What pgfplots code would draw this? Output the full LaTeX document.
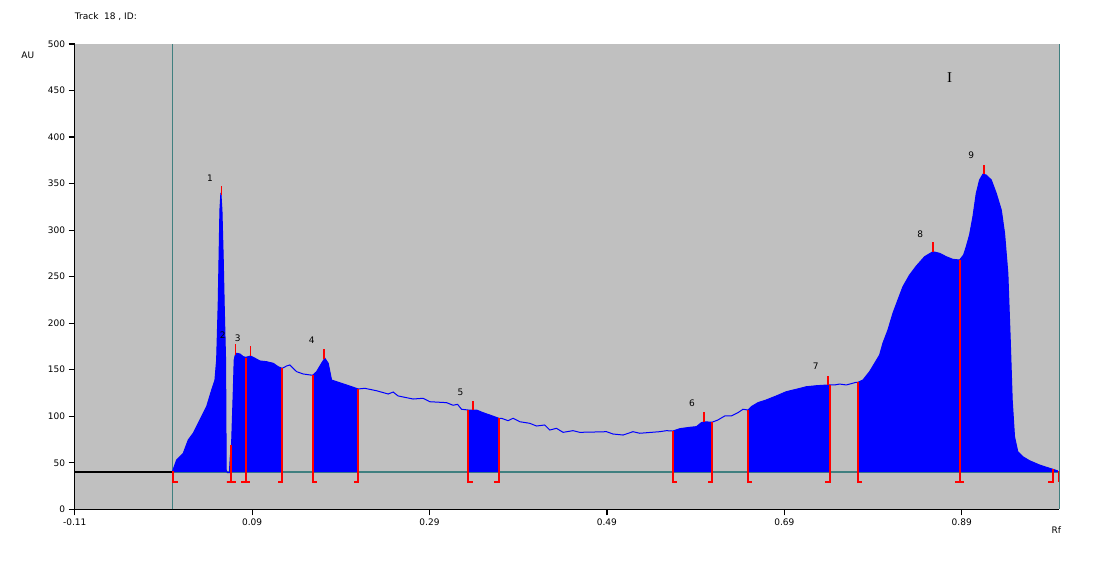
\documentclass[border=0pt]{standalone}
\usepackage{pgfplots}
\pgfplotsset{compat=1.18}
\usepackage{pgfplotstable}
\usepackage{fontspec}
\setmainfont{DejaVu Sans}
\newfontfamily\ibeam{Liberation Serif}
\definecolor{bgsilver}{HTML}{C0C0C0}
\definecolor{tealline}{HTML}{408080}
\definecolor{peakblue}{HTML}{0000FF}
\definecolor{markred}{HTML}{FF0000}

% densitogram, Rf vs AU
\pgfplotstableread{
rf au
0.0000 40.0
0.0049 53.0
0.0124 60.2
0.0180 74.5
0.0236 81.7
0.0312 96.0
0.0387 110.3
0.0444 128.2
0.0481 138.9
0.0500 160.4
0.0518 221.7
0.0537 321.6
0.0548 339.9
0.0560 321.6
0.0574 271.4
0.0586 217.7
0.0601 160.4
0.0608 42.2
0.0622 39.5
0.0644 39.5
0.0653 55.1
0.0669 70.9
0.0687 124.7
0.0698 160.4
0.0710 165.8
0.0725 167.6
0.0763 166.9
0.0800 164.0
0.0830 163.3
0.0856 164.0
0.0883 164.7
0.0932 162.3
0.0988 159.4
0.1063 158.6
0.1138 156.9
0.1194 153.2
0.1239 151.5
0.1289 154.0
0.1326 155.1
0.1363 151.5
0.1402 147.9
0.1476 145.4
0.1582 144.0
0.1627 147.9
0.1683 156.9
0.1720 162.3
0.1758 156.9
0.1796 138.9
0.1852 137.1
0.1965 133.6
0.2096 129.3
0.2171 130.0
0.2303 127.4
0.2434 123.9
0.2490 126.0
0.2546 121.8
0.2715 118.5
0.2828 119.3
0.2903 115.6
0.3092 114.6
0.3166 111.8
0.3216 112.8
0.3261 107.5
0.3335 106.7
0.3430 106.7
0.3504 103.8
0.3580 101.3
0.3681 97.8
0.3711 97.8
0.3786 95.2
0.3842 97.8
0.3918 94.1
0.4030 92.4
0.4106 89.5
0.4199 90.6
0.4256 85.2
0.4331 87.0
0.4406 82.7
0.4518 84.5
0.4594 82.7
0.4782 83.1
0.4895 83.4
0.4969 80.9
0.5082 79.8
0.5194 83.4
0.5270 81.7
0.5495 83.4
0.5571 84.5
0.5645 84.1
0.5721 86.6
0.5833 88.1
0.5909 88.8
0.5965 93.1
0.6002 94.1
0.6084 93.5
0.6152 96.0
0.6228 100.3
0.6303 100.3
0.6377 103.8
0.6434 107.5
0.6490 106.7
0.6528 110.3
0.6603 114.6
0.6697 117.5
0.6810 121.8
0.6923 126.4
0.7036 129.0
0.7148 131.7
0.7261 132.8
0.7392 133.6
0.7413 133.6
0.7467 133.6
0.7523 134.6
0.7599 133.6
0.7711 136.5
0.7730 136.5
0.7786 138.9
0.7861 147.9
0.7918 156.9
0.7974 165.8
0.8011 178.4
0.8068 192.7
0.8124 210.6
0.8180 224.9
0.8237 239.2
0.8312 251.8
0.8388 261.4
0.8481 271.4
0.8575 276.8
0.8650 275.1
0.8726 271.4
0.8800 268.6
0.8876 267.9
0.8921 273.3
0.8951 282.2
0.8988 294.8
0.9026 314.4
0.9064 339.6
0.9101 353.9
0.9138 360.0
0.9176 359.2
0.9233 353.9
0.9289 339.6
0.9346 321.6
0.9383 296.6
0.9420 253.6
0.9447 181.9
0.9469 117.5
0.9495 78.0
0.9532 61.9
0.9589 56.5
0.9664 52.2
0.9777 47.6
0.9870 44.7
0.9927 43.0
0.9983 41.2
}\densito

% one filled peak area: #1,#2 = first and last Rf, #3,#4 = filter range
\newcommand{\peakarea}[4]{%
  \addplot[fill=peakblue, draw=none, restrict x to domain=#3:#4]
    table[x=rf, y=au] {\densito} -- (axis cs:#2,40) -- (axis cs:#1,40) -- cycle;}

\begin{document}
\begin{tikzpicture}
\useasboundingbox (0,0) rectangle (1102pt,561pt);
\begin{axis}[
  at={(74.7pt,51.7pt)}, anchor=south west,
  scale only axis, width=984.6pt, height=465.3pt,
  xmin=-0.11, xmax=1.0, ymin=0, ymax=500,
  axis x line=bottom, axis y line=left,
  axis line style={-, black, line width=1.2pt},
  axis background/.style={fill=bgsilver},
  xtick={-0.11,0.09,0.29,0.49,0.69,0.89},
  xticklabels={-0.11,0.09,0.29,0.49,0.69,0.89},
  ytick={0,50,...,500},
  tick align=outside, major tick length=6pt,
  tick style={black, line width=1.2pt},
  ticklabel style={font=\fontsize{9}{10}\selectfont},
  /pgf/number format/assume math mode=true,
  clip=false,
]
% frame lines and baseline
\addplot[tealline, line width=1.2pt] coordinates {(0,0) (0,500)};
\addplot[tealline, line width=1.2pt] coordinates {(1,0) (1,500)};
\addplot[tealline, line width=1.2pt] coordinates {(0,40) (1,40)};
\addplot[black, line width=1.2pt] coordinates {(-0.11,40) (0,40)};

% integrated peak areas
\peakarea{0.0000}{0.0644}{-0.0001}{0.06445}
\peakarea{0.0644}{0.1239}{0.06435}{0.12395}
\peakarea{0.1582}{0.2096}{0.15815}{0.20965}
\peakarea{0.3335}{0.3681}{0.33345}{0.36815}
\peakarea{0.5645}{0.6084}{0.56445}{0.60845}
\peakarea{0.6490}{0.7413}{0.64895}{0.74135}
\peakarea{0.7730}{0.9983}{0.77295}{0.99835}

\addplot[peakblue, line width=1pt] table[x=rf, y=au] {\densito};

% peak start/end markers
\addplot[markred, line width=1.8pt, unbounded coords=jump] coordinates {
(0.0010,41) (0.0010,29) (0.0060,29) (nan,nan)
(0.0665,69) (0.0665,29) (0.0615,29) (0.0715,29) (nan,nan)
(0.0827,163) (0.0827,29) (0.0777,29) (0.0877,29) (nan,nan)
(0.1239,151.5) (0.1239,29) (0.1189,29) (nan,nan)
(0.1582,144) (0.1582,29) (0.1632,29) (nan,nan)
(0.2096,129.3) (0.2096,29) (0.2046,29) (nan,nan)
(0.3335,106.7) (0.3335,29) (0.3385,29) (nan,nan)
(0.3681,97.8) (0.3681,29) (0.3631,29) (nan,nan)
(0.5645,84.1) (0.5645,29) (0.5695,29) (nan,nan)
(0.6084,93.5) (0.6084,29) (0.6034,29) (nan,nan)
(0.6490,106.7) (0.6490,29) (0.6540,29) (nan,nan)
(0.7413,133.6) (0.7413,29) (0.7363,29) (nan,nan)
(0.7730,136.5) (0.7730,29) (0.7780,29) (nan,nan)
(0.8876,267.9) (0.8876,29) (0.8826,29) (0.8926,29) (nan,nan)
(0.9927,43) (0.9927,29) (0.9877,29) (nan,nan)
(0.9990,41) (0.9990,29)
};
% peak maxima
\addplot[markred, line width=1.4pt, unbounded coords=jump] coordinates {
(0.0552,338) (0.0552,347) (nan,nan)
(0.0710,166) (0.0710,178) (nan,nan)
(0.0879,165) (0.0879,175) (nan,nan)
(0.1712,161) (0.1712,172) (nan,nan)
(0.3391,107) (0.3391,116) (nan,nan)
(0.5994,94) (0.5994,105) (nan,nan)
(0.7392,134) (0.7392,143) (nan,nan)
(0.8575,277) (0.8575,287) (nan,nan)
(0.9149,360) (0.9149,370)
};

\begin{scope}[font=\fontsize{9}{10}\selectfont]
\node at (axis cs:0.0425,356) {1};
\node at (axis cs:0.0568,187) {2};
\node at (axis cs:0.0737,184) {3};
\node at (axis cs:0.1571,182) {4};
\node at (axis cs:0.3249,126) {5};
\node at (axis cs:0.5859,114) {6};
\node at (axis cs:0.7253,154) {7};
\node at (axis cs:0.8433,296) {8};
\node at (axis cs:0.9007,380) {9};
\node at (axis cs:-0.1628,488) {AU};
\node at (axis cs:0.9965,-22) {Rf};
\node[anchor=west, inner sep=0pt] at (axis cs:-0.11,529) {Track\ \ 18 , ID:};
\end{scope}
\node[font=\ibeam\fontsize{15}{15}\selectfont] at (axis cs:0.8763,464) {I};
\end{axis}
\end{tikzpicture}
\end{document}
